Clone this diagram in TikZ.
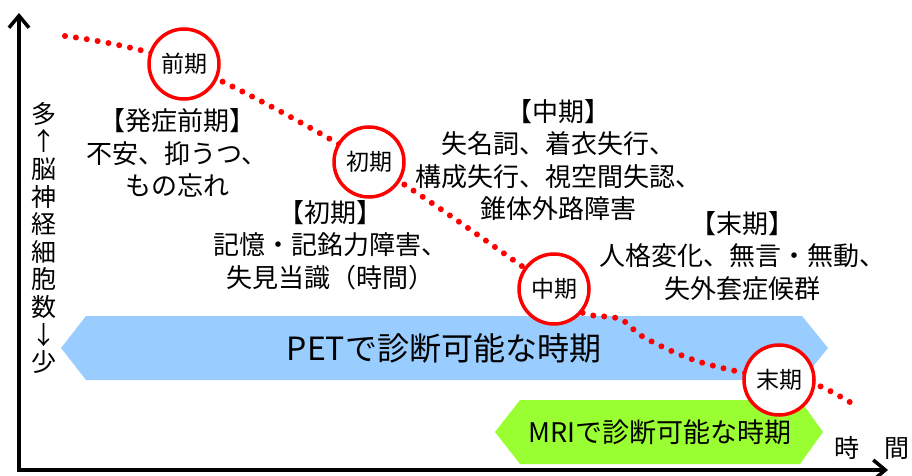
\documentclass[tikz,border=0pt]{standalone}
\usepackage{fontspec}
\setmainfont{Noto Sans CJK JP}
\usetikzlibrary{arrows.meta}
\definecolor{petblue}{RGB}{153,204,255}
\definecolor{mrigreen}{RGB}{153,255,51}
\begin{document}
\begin{tikzpicture}[x=1pt,y=-1pt,
  stage/.style={circle, draw=red, line width=3.5pt, fill=white, minimum size=70pt, inner sep=0pt, font=\fontsize{23}{23}\selectfont},
  desc/.style={align=center, font=\fontsize{26}{32.5}\selectfont, inner sep=0pt},
  axisline/.style={line width=3.5pt, line join=miter,
    {Straight Barb[length=12pt,width=20pt,line width=3.5pt]}-{Straight Barb[length=12pt,width=20pt,line width=3.5pt]}},
  dots/.style={red, line width=6pt, line cap=round, dash pattern=on 0pt off 11pt},
  bandtext/.style={inner sep=0pt}]
\useasboundingbox (0,0) rectangle (912,476);
% axes
\coordinate (ytop) at (19,13);
\coordinate (O) at (19,470);
\coordinate (xend) at (888,470);
\draw[axisline] (ytop) -- (O) -- (xend);
% bands
\fill[petblue] (61,348) -- (86,316) -- (802,316) -- (828,348) -- (802,380) -- (86,380) -- cycle;
\node[bandtext, font=\fontsize{32}{32}\selectfont] (pet) at (444,348) {PETで診断可能な時期};
\fill[mrigreen] (495,432) -- (520,400) -- (800,400) -- (823,432) -- (800,464) -- (520,464) -- cycle;
% stage positions
\coordinate (p0) at (65,36);
\coordinate (p1) at (184,64);
\coordinate (p2) at (369,162);
\coordinate (p3) at (554,289);
\coordinate (p4) at (779,380);
\coordinate (p5) at (858,407);
\draw[dots] plot[smooth, tension=0.55] coordinates {(p0) (p1) (p2) (p3) (583,313) (620,319) (645,338) (700,362) (p4) (817,385) (p5)};
\node[stage] (c1) at (p1) {前期};
\node[stage] (c2) at (p2) {初期};
\node[stage] (c3) at (p3) {中期};
\node[stage] (c4) at (p4) {末期};
\node[bandtext, font=\fontsize{27}{27}\selectfont] (mri) at (660,432) {MRIで診断可能な時期};
% descriptions
\node[desc] (t1) at (177,153) {【発症前期】\\不安、抑うつ、\\もの忘れ};
\node[desc] (t2) at (330,245) {【初期】\\記憶・記銘力障害、\\失見当識（時間）};
\node[desc] (t3) at (558,160) {【中期】\\失名詞、着衣失行、\\構成失行、視空間失認、\\錐体外路障害};
\node[desc] (t4) at (742,256) {【末期】\\人格変化、無言・無動、\\失外套症候群};
% axis labels
\node[inner sep=0pt, align=center, font=\fontsize{25}{27.6}\selectfont] (ylab) at (44,238) {多\\↑\\脳\\神\\経\\細\\胞\\数\\↓\\少};
\node[inner sep=0pt, font=\fontsize{25}{25}\selectfont] (xlab) at (872,448) {時　間};
\end{tikzpicture}
\end{document}
